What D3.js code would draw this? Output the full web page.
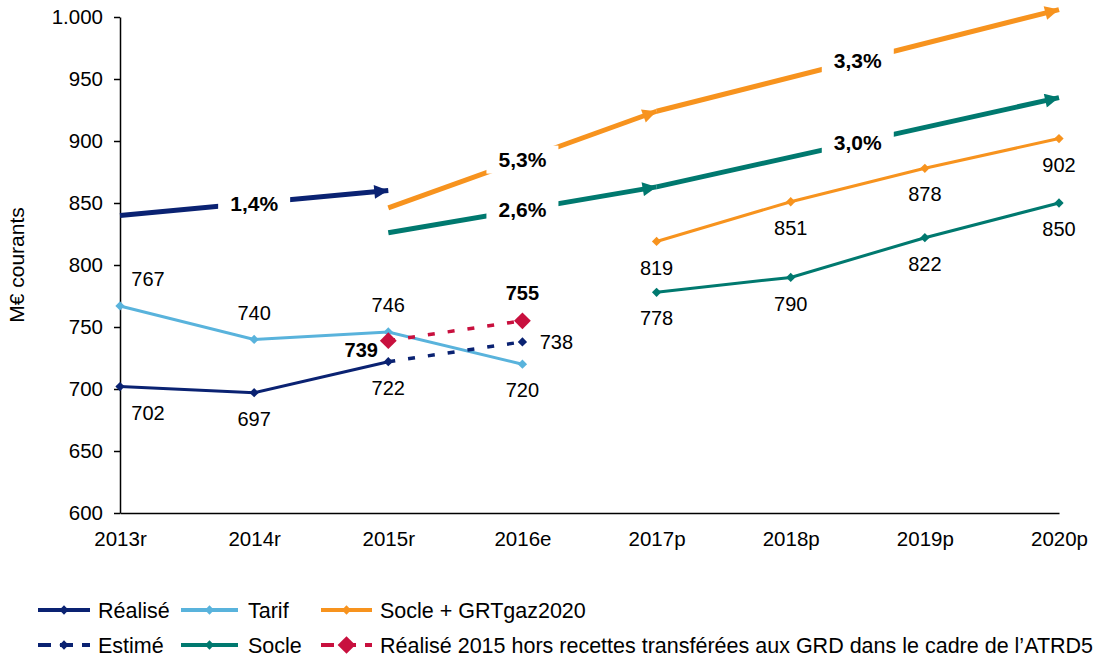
<!DOCTYPE html>
<html lang="fr">
  <head>
    <meta charset="UTF-8" />
    <title>Revenus</title>
    <style type="text/css">
      body { margin: 0; background: #fff; }
      text { font-family: 'Liberation Sans', Arial, sans-serif; }
    </style>
    <script src="https://d3js.org/d3.v7.min.js"></script>
  </head>
  <body>
    <div class="d3Chart"></div>
    <script type="text/javascript">
      // données
      const categories = ['2013r', '2014r', '2015r', '2016e', '2017p', '2018p', '2019p', '2020p']
      const yTicks = [600, 650, 700, 750, 800, 850, 900, 950, 1000]

      const realise = [702, 697, 722, null, null, null, null, null]
      const estime = [null, null, 722, 738, null, null, null, null]
      const tarif = [767, 740, 746, 720, null, null, null, null]
      const socleGrt = [null, null, null, null, 819, 851, 878, 902]
      const socle = [null, null, null, null, 778, 790, 822, 850]
      const realiseHors = [null, null, 739, 755, null, null, null, null]

      // flèches de croissance : [début, fin, valeur début, valeur fin, libellé]
      const arrowsRealise = [['2013r', '2015r', 840, 860, '1,4%']]
      const arrowsSocleGrt = [['2015r', '2017p', 846, 924, '5,3%'], ['2017p', '2020p', 924, 1006, '3,3%']]
      const arrowsSocle = [['2015r', '2017p', 826, 863, '2,6%'], ['2017p', '2020p', 863, 935, '3,0%']]

      // canvas
      const width = 1117
      const height = 659
      const margin = { left: 120, right: 58, top: 17, bottom: 146 }

      const colors = {
        realise: '#0a2272',
        tarif: '#59b3dc',
        socleGrt: '#f7931e',
        socle: '#00796f',
        hors: '#c8103e'
      }

      const svg = d3
        .select('.d3Chart')
        .append('svg')
        .attr('width', width)
        .attr('height', height)

      const x = d3
        .scalePoint()
        .domain(categories)
        .range([margin.left, width - margin.right])
        .padding(0)

      const y = d3
        .scaleLinear()
        .domain([600, 1000])
        .range([height - margin.bottom, margin.top])

      const fmt = (v) => (v >= 1000 ? d3.format(',')(v).replace(',', '.') : String(v))

      // axes
      const yAxis = svg
        .append('g')
        .attr('transform', `translate(${margin.left},0)`)
        .call(d3.axisLeft(y).tickValues(yTicks).tickFormat(fmt).tickSize(6).tickSizeOuter(0).tickPadding(11))
      yAxis.selectAll('text').style('font-size', '20.5px').attr('fill', '#000')
      yAxis.selectAll('line, path').attr('stroke', '#000').attr('stroke-width', 1.5)

      const xAxis = svg
        .append('g')
        .attr('transform', `translate(0,${y(600)})`)
        .call(d3.axisBottom(x).tickSize(0).tickPadding(18))
      xAxis.selectAll('text').style('font-size', '20.5px').attr('fill', '#000')
      xAxis.select('path').attr('stroke', '#000').attr('stroke-width', 1.5)

      svg
        .append('text')
        .attr('transform', `translate(24,${(y(600) + y(1000)) / 2}) rotate(-90)`)
        .attr('text-anchor', 'middle')
        .style('font-size', '21px')
        .text('M€ courants')

      // flèches
      const defs = svg.append('defs')
      Object.entries(colors).forEach(([k, c]) => {
        defs
          .append('marker')
          .attr('id', 'arrow-' + k)
          .attr('markerUnits', 'userSpaceOnUse')
          .attr('viewBox', '0 0 10 10')
          .attr('refX', 10)
          .attr('refY', 5)
          .attr('markerWidth', 17)
          .attr('markerHeight', 14)
          .attr('orient', 'auto')
          .append('path')
          .attr('d', 'M0,0L10,5L0,10Z')
          .attr('fill', c)
      })

      function drawArrows(list, key) {
        const g = svg.append('g')
        list.forEach(([c0, c1, v0, v1, label]) => {
          const x0 = x(c0)
          const y0 = y(v0)
          const x1 = x(c1)
          const y1 = y(v1)
          g.append('line')
            .attr('x1', x0)
            .attr('y1', y0)
            .attr('x2', x1)
            .attr('y2', y1)
            .attr('stroke', colors[key])
            .attr('stroke-width', 5)
            .attr('marker-end', `url(#arrow-${key})`)
          const mx = (x0 + x1) / 2
          const my = (y0 + y1) / 2
          g.append('rect')
            .attr('x', mx - 36)
            .attr('y', my - 14)
            .attr('width', 72)
            .attr('height', 28)
            .attr('fill', '#fff')
          g.append('text')
            .attr('x', mx)
            .attr('y', my)
            .attr('dy', '0.36em')
            .attr('text-anchor', 'middle')
            .style('font-size', '21px')
            .style('font-weight', 'bold')
            .text(label)
        })
      }
      drawArrows(arrowsRealise, 'realise')
      drawArrows(arrowsSocleGrt, 'socleGrt')
      drawArrows(arrowsSocle, 'socle')

      // séries
      const diamond = (s) => d3.symbol().type(d3.symbolDiamond2).size(s)

      function drawSeries(values, color, opts) {
        const pts = categories.map((c, i) => ({ c, v: values[i] })).filter((d) => d.v != null)
        const line = d3
          .line()
          .x((d) => x(d.c))
          .y((d) => y(d.v))
        svg
          .append('path')
          .datum(pts)
          .attr('d', line)
          .attr('fill', 'none')
          .attr('stroke', color)
          .attr('stroke-width', opts.width || 3)
          .attr('stroke-dasharray', opts.dash || null)
        svg
          .append('g')
          .selectAll('path')
          .data(pts.filter((d, i) => !(opts.skipFirst && i === 0)))
          .join('path')
          .attr('d', diamond(opts.size || 55))
          .attr('transform', (d) => `translate(${x(d.c)},${y(d.v)})`)
          .attr('fill', color)
      }

      drawSeries(tarif, colors.tarif, {})
      drawSeries(realise, colors.realise, {})
      drawSeries(estime, colors.realise, { dash: '7,13', width: 3.5, skipFirst: true })
      drawSeries(socleGrt, colors.socleGrt, {})
      drawSeries(socle, colors.socle, {})
      drawSeries(realiseHors, colors.hors, { dash: '7,13', width: 3.5, size: 180 })

      // étiquettes de données : placement par point
      const offsets = { above: [0, -27], below: [0, 26], right: [34, 0], left: [-27, 9], aboveBig: [0, -28] }

      function labels(values, places, opts) {
        let k = 0
        categories.forEach((c, i) => {
          const v = values[i]
          if (v == null) return
          const p = places[k++]
          if (!p) return
          const [dx, dy] = offsets[p]
          const shift = i === 0 ? 28 : 0
          svg
            .append('text')
            .attr('x', x(c) + dx + shift)
            .attr('y', y(v) + dy)
            .attr('dy', '0.36em')
            .attr('text-anchor', 'middle')
            .style('font-size', '20px')
            .style('font-weight', opts && opts.bold ? 'bold' : 'normal')
            .text(v)
        })
      }
      labels(realise, ['below', 'below', 'below'])
      labels(estime, [null, 'right'])
      labels(tarif, ['above', 'above', 'above', 'below'])
      labels(realiseHors, ['left', 'aboveBig'], { bold: true })
      labels(socleGrt, ['below', 'below', 'below', 'below'])
      labels(socle, ['below', 'below', 'below', 'below'])

      // légende
      const legendRows = [
        [
          ['Réalisé', colors.realise, null, 55],
          ['Tarif', colors.tarif, null, 55],
          ['Socle + GRTgaz2020', colors.socleGrt, null, 55]
        ],
        [
          ['Estimé', colors.realise, '13,9', 55],
          ['Socle', colors.socle, null, 55],
          ['Réalisé 2015 hors recettes transférées aux GRD dans le cadre de l’ATRD5', colors.hors, '13,9', 200]
        ]
      ]
      const legendX = [38, 181, 321]
      const legendLine = [52, 57, 51]
      const legendText = [60, 67, 59]
      legendRows.forEach((row, r) => {
        const ly = 610 + r * 35
        row.forEach(([name, color, dash, size], j) => {
          const g = svg.append('g').attr('transform', `translate(${legendX[j]},${ly})`)
          g.append('line')
            .attr('x1', 0)
            .attr('x2', legendLine[j])
            .attr('stroke', color)
            .attr('stroke-width', 4)
            .attr('stroke-dasharray', dash)
          g.append('path')
            .attr('d', diamond(size))
            .attr('transform', `translate(${legendLine[j] / 2},0)`)
            .attr('fill', color)
          g.append('text').attr('x', legendText[j]).attr('dy', '0.36em').style('font-size', '21.5px').text(name)
        })
      })
    </script>
  </body>
</html>
